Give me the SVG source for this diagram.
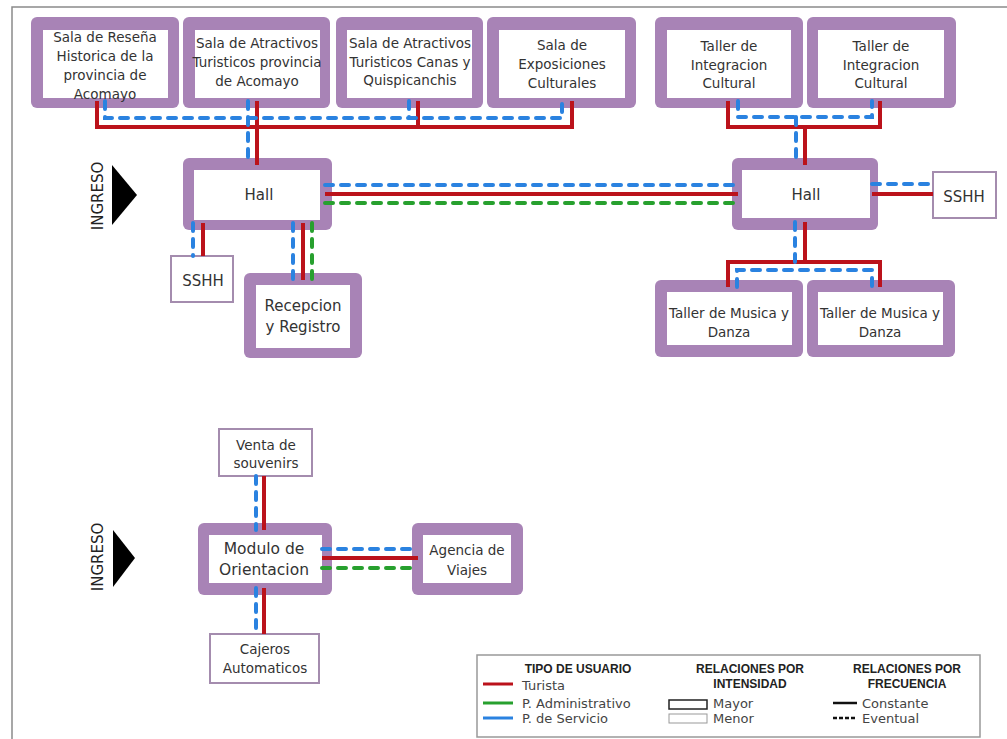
<svg xmlns="http://www.w3.org/2000/svg" width="1007" height="739" viewBox="0 0 1007 739">
<style>
.o{fill:#a883b6}
.i{fill:#fff}
.thin{fill:#fff;stroke:#a48cae;stroke-width:2}
text{font-family:'DejaVu Sans',sans-serif;fill:#333;text-anchor:middle}
.t{font-size:13.5px}
.m{font-size:15px}
.r{stroke:#bb121b;stroke-width:4;fill:none}
.b{stroke:#2a82e0;stroke-width:4;fill:none;stroke-dasharray:8 8;stroke-linecap:round}
.g{stroke:#27a02e;stroke-width:4;fill:none;stroke-dasharray:8 8;stroke-linecap:round}
.h{font-family:'Liberation Sans',Arial,sans-serif;font-weight:bold;font-size:12px;fill:#222}
.l{font-size:13px;text-anchor:start;fill:#444}
.ing{font-size:15px;fill:#222}
</style>
<rect width="1007" height="739" fill="#fff"/>
<path d="M12,739 V7 H1007" fill="none" stroke="#8a8a8a" stroke-width="1.5"/>

<g id="n1"><rect class="o" x="31" y="17" width="148" height="91" rx="6"/><rect class="i" x="43" y="30" width="125" height="68"/>
<text class="t"><tspan x="105" y="42">Sala de Reseña</tspan><tspan x="105" y="61">Historica de la</tspan><tspan x="105" y="80">provincia de</tspan><tspan x="105" y="99">Acomayo</tspan></text></g>
<g id="n2"><rect class="o" x="183" y="17" width="147" height="91" rx="6"/><rect class="i" x="195" y="30" width="125" height="68"/>
<text class="t"><tspan x="257" y="48">Sala de Atractivos</tspan><tspan x="257" y="67">Turisticos provincia</tspan><tspan x="257" y="86">de Acomayo</tspan></text></g>
<g id="n3"><rect class="o" x="336" y="17" width="147" height="91" rx="6"/><rect class="i" x="347" y="30" width="125" height="68"/>
<text class="t"><tspan x="410" y="48">Sala de Atractivos</tspan><tspan x="410" y="67">Turisticos Canas y</tspan><tspan x="410" y="85">Quispicanchis</tspan></text></g>
<g id="n4"><rect class="o" x="487" y="17" width="149" height="91" rx="6"/><rect class="i" x="499" y="30" width="126" height="68"/>
<text class="t"><tspan x="562" y="50">Sala de</tspan><tspan x="562" y="69">Exposiciones</tspan><tspan x="562" y="88">Culturales</tspan></text></g>
<g id="n5"><rect class="o" x="655" y="17" width="148" height="91" rx="6"/><rect class="i" x="667" y="30" width="124" height="68"/>
<text class="t"><tspan x="729" y="51">Taller de</tspan><tspan x="729" y="70">Integracion</tspan><tspan x="729" y="88">Cultural</tspan></text></g>
<g id="n6"><rect class="o" x="807" y="17" width="149" height="91" rx="6"/><rect class="i" x="818" y="30" width="126" height="68"/>
<text class="t"><tspan x="881" y="51">Taller de</tspan><tspan x="881" y="70">Integracion</tspan><tspan x="881" y="88">Cultural</tspan></text></g>

<g id="hall1"><rect class="o" x="183" y="158" width="149" height="72" rx="6"/><rect class="i" x="194" y="170" width="126" height="50"/>
<text class="m" x="259" y="200">Hall</text></g>
<g id="hall2"><rect class="o" x="732" y="158" width="146" height="72" rx="6"/><rect class="i" x="742" y="170" width="128" height="48"/>
<text class="m" x="806" y="200">Hall</text></g>
<g id="sshh1"><rect class="thin" x="171" y="256" width="62" height="46"/><text class="m" x="203" y="286">SSHH</text></g>
<g id="sshh2"><rect class="thin" x="933" y="172" width="63" height="46"/><text class="m" x="964" y="202">SSHH</text></g>
<g id="recepcion"><rect class="o" x="244" y="273" width="118" height="85" rx="6"/><rect class="i" x="256" y="285" width="94" height="63"/>
<text class="m"><tspan x="303" y="311">Recepcion</tspan><tspan x="303" y="332">y Registro</tspan></text></g>
<g id="musica1"><rect class="o" x="655" y="280" width="148" height="77" rx="6"/><rect class="i" x="667" y="292" width="125" height="53"/>
<text class="t"><tspan x="729" y="318">Taller de Musica y</tspan><tspan x="729" y="337">Danza</tspan></text></g>
<g id="musica2"><rect class="o" x="807" y="280" width="148" height="77" rx="6"/><rect class="i" x="818" y="292" width="125" height="53"/>
<text class="t"><tspan x="880" y="318">Taller de Musica y</tspan><tspan x="880" y="337">Danza</tspan></text></g>

<g id="venta"><rect class="thin" x="219" y="429" width="93" height="47"/><text class="t"><tspan x="266" y="450">Venta de</tspan><tspan x="266" y="468">souvenirs</tspan></text></g>
<g id="modulo"><rect class="o" x="198" y="523" width="134" height="72" rx="6"/><rect class="i" x="209" y="535" width="113" height="48"/>
<text class="m" style="font-size:15.5px"><tspan x="264" y="554">Modulo de</tspan><tspan x="264" y="575">Orientacion</tspan></text></g>
<g id="agencia"><rect class="o" x="412" y="523" width="111" height="72" rx="6"/><rect class="i" x="423" y="535" width="88" height="48"/>
<text class="t"><tspan x="467" y="555">Agencia de</tspan><tspan x="467" y="575">Viajes</tspan></text></g>
<g id="cajeros"><rect class="thin" x="210" y="634" width="109" height="49"/><text class="t"><tspan x="265" y="654">Cajeros</tspan><tspan x="265" y="673">Automaticos</tspan></text></g>

<g id="ingreso1"><path d="M112,165 L137,195 L112,225 Z" fill="#000"/><text class="ing" transform="translate(103,196) rotate(-90)">INGRESO</text></g>
<g id="ingreso2"><path d="M113,530 L135,558 L113,587 Z" fill="#000"/><text class="ing" transform="translate(103,557) rotate(-90)">INGRESO</text></g>

<g id="connectors">
<path class="r" d="M97,101 V127 H572 V101 M418,101 V127 M257,101 V165"/>
<path class="b" d="M105,101 V118 H562 V101 M409,101 V118 M248,101 V165"/>
<path class="r" d="M728,101 V127 H880 V101 M805,127 V165"/>
<path class="b" d="M738,101 V117 H872 V101 M796,117 V165"/>
<path class="b" d="M325,185 H738"/>
<path class="r" d="M325,194 H738"/>
<path class="g" d="M325,203 H738"/>
<path class="b" d="M872,184 H933"/>
<path class="r" d="M872,194 H933"/>
<path class="b" d="M193,223 V256"/>
<path class="r" d="M203,223 V256"/>
<path class="b" d="M293,223 V280"/>
<path class="r" d="M303,223 V280"/>
<path class="g" d="M312,223 V280"/>
<path class="r" d="M805,222 V262 M728,287 V262 H880 V287"/>
<path class="b" d="M795,222 V270 M737,287 V270 H872 V287"/>
<path class="b" d="M256,476 V530 M256,588 V634"/>
<path class="r" d="M264,476 V530 M264,588 V634"/>
<path class="b" d="M322,549 H418"/>
<path class="r" d="M322,558 H418"/>
<path class="g" d="M322,568 H418"/>
</g>

<g id="legend">
<rect x="477" y="655" width="503" height="82" fill="#fff" stroke="#999" stroke-width="1.5"/>
<text class="h" x="578" y="673">TIPO DE USUARIO</text>
<line x1="483" y1="684" x2="513" y2="684" stroke="#bb121b" stroke-width="3"/>
<line x1="483" y1="703" x2="513" y2="703" stroke="#27a02e" stroke-width="3"/>
<line x1="483" y1="718" x2="513" y2="718" stroke="#2a82e0" stroke-width="3"/>
<text class="l" x="522" y="690">Turista</text>
<text class="l" x="522" y="708">P. Administrativo</text>
<text class="l" x="522" y="723">P. de Servicio</text>
<text class="h" x="750" y="673">RELACIONES POR</text>
<text class="h" x="750" y="688">INTENSIDAD</text>
<rect x="669" y="700" width="38" height="9" fill="#fff" stroke="#222" stroke-width="1.5"/>
<rect x="669" y="714" width="38" height="9" fill="#fff" stroke="#999" stroke-width="1"/>
<text class="l" x="713" y="708">Mayor</text>
<text class="l" x="713" y="723">Menor</text>
<text class="h" x="907" y="673">RELACIONES POR</text>
<text class="h" x="907" y="688">FRECUENCIA</text>
<line x1="833" y1="703" x2="857" y2="703" stroke="#111" stroke-width="2.5"/>
<line x1="833" y1="718" x2="857" y2="718" stroke="#111" stroke-width="2.5" stroke-dasharray="4 2"/>
<text class="l" x="862" y="708">Constante</text>
<text class="l" x="862" y="723">Eventual</text>
</g>
</svg>
